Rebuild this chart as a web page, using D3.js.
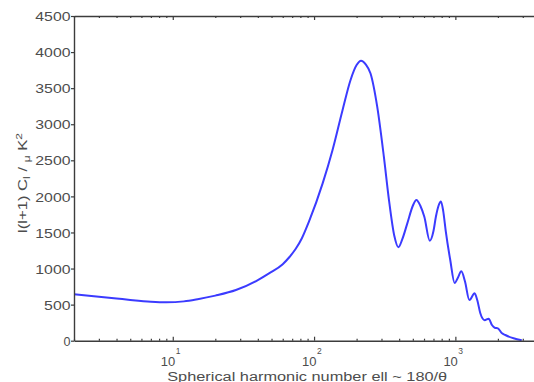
<!DOCTYPE html>
<html><head><meta charset="utf-8">
<script src="https://cdn.jsdelivr.net/npm/d3@7"></script>
<style>body{margin:0;background:#fff}svg{display:block}</style>
</head><body><svg id="c" width="534" height="382"></svg>
<script>
// ---- data ----
const ell   = [2, 3, 4, 5, 7, 9, 12, 15, 20, 28, 40, 48, 60, 67, 74, 82, 92, 115, 135, 159, 181, 200, 215, 232, 251, 280, 312, 339, 370, 395, 420, 457, 500, 530, 565, 603, 659, 700, 728, 760, 790, 820, 855, 920, 988, 1040, 1102, 1170, 1256, 1368, 1430, 1502, 1611, 1720, 1815, 1900, 2000, 2140, 2256, 2582, 2950];
const power = [645, 610, 585, 565, 540, 532, 545, 575, 625, 702, 840, 933, 1060, 1160, 1270, 1420, 1650, 2180, 2640, 3195, 3610, 3820, 3880, 3830, 3704, 3241, 2548, 1949, 1450, 1295, 1400, 1626, 1870, 1950, 1870, 1717, 1385, 1520, 1717, 1870, 1930, 1800, 1520, 1118, 800, 870, 962, 820, 564, 656, 560, 380, 285, 305, 217, 180, 171, 102, 79, 33, 5];
const yTickValues = [0, 500, 1000, 1500, 2000, 2500, 3000, 3500, 4000, 4500];
const xMajorTicks = [10, 100, 1000];
const xMajorExp   = ["1", "2", "3"];
const xMinorTicks = [2,3,4,5,6,7,8,9,20,30,40,50,60,70,80,90,200,300,400,500,600,700,800,900,2000,3000,4000];
const xLabel = "Spherical harmonic number ell ~ 180/\u03B8";

// ---- layout ----
const mLeft = 74, mTop = 16, mBottom = 340.7, decade = 141.3;
const svg = d3.select("#c");
const x = d3.scaleLog().domain([2, 4000]).range([mLeft, mLeft + decade * Math.log10(2000)]);
const y = d3.scaleLinear().domain([0, 4500]).range([mBottom, mTop]);
const axisColor = "#3c3c3c", textColor = "#4d4d4d";
const font = "'Liberation Sans', Arial, Helvetica, sans-serif";

// curve
svg.append("path")
  .datum(ell.map((e, i) => [e, power[i]]))
  .attr("fill", "none").attr("stroke", "#3b3bff").attr("stroke-width", 2)
  .attr("stroke-linejoin", "round")
  .attr("d", d3.line().x(d => x(d[0])).y(d => y(d[1])).curve(d3.curveMonotoneX));

function styleAxis(g) {
  g.select(".domain").attr("stroke", axisColor).attr("stroke-width", 1.4);
  g.selectAll(".tick line").attr("stroke", axisColor).attr("stroke-width", 1.2);
  g.selectAll(".tick text").remove();
}
// bottom axis (ticks inward)
const gb = svg.append("g").attr("transform", `translate(0,${mBottom})`);
gb.call(d3.axisBottom(x).tickValues(xMinorTicks).tickSize(-2).tickSizeOuter(0).tickFormat(""));
styleAxis(gb);
const gb2 = svg.append("g").attr("transform", `translate(0,${mBottom})`);
gb2.call(d3.axisBottom(x).tickValues(xMajorTicks).tickSize(-4).tickSizeOuter(0).tickFormat(""));
styleAxis(gb2); gb2.select(".domain").remove();
// top axis
const gt = svg.append("g").attr("transform", `translate(0,${mTop})`);
gt.call(d3.axisTop(x).tickValues(xMinorTicks).tickSize(-2).tickSizeOuter(0).tickFormat(""));
styleAxis(gt);
const gt2 = svg.append("g").attr("transform", `translate(0,${mTop})`);
gt2.call(d3.axisTop(x).tickValues(xMajorTicks).tickSize(-4).tickSizeOuter(0).tickFormat(""));
styleAxis(gt2); gt2.select(".domain").remove();
// left axis
const gl = svg.append("g").attr("transform", `translate(${mLeft},0)`);
gl.call(d3.axisLeft(y).tickValues(yTickValues).tickSize(3).tickSizeOuter(0).tickFormat(d3.format("d")));
gl.select(".domain").attr("stroke", axisColor).attr("stroke-width", 1.4);
gl.selectAll(".tick line").attr("stroke", axisColor).attr("stroke-width", 1.2);
gl.selectAll(".tick text")
  .attr("x", -3.5).attr("dy", "0.36em")
  .attr("fill", textColor).style("font-family", font).style("font-size", "13px")
  .attr("text-anchor", "end")
  .attr("textLength", d => String(d).length > 1 ? String(d).length * 8.8 : 7)
  .attr("lengthAdjust", "spacingAndGlyphs");

// x tick labels 10^n
xMajorTicks.forEach((v, i) => {
  svg.append("text").attr("x", x(v) + 2.5).attr("y", 366)
    .attr("text-anchor", "end").attr("fill", textColor)
    .style("font-family", font).style("font-size", "13px").text("10");
  svg.append("text").attr("x", x(v) + 3).attr("y", 354)
    .attr("text-anchor", "start").attr("fill", textColor)
    .style("font-family", font).style("font-size", "8.5px").text(xMajorExp[i]);
});

// x label
svg.append("text").attr("x", (x.range()[0] + x.range()[1]) / 2).attr("y", 380.5)
  .attr("text-anchor", "middle").attr("fill", textColor)
  .style("font-family", font).style("font-size", "12px")
  .attr("textLength", 280).attr("lengthAdjust", "spacingAndGlyphs")
  .text(xLabel);

// y label
const yl = svg.append("text")
  .attr("text-anchor", "middle").attr("fill", textColor)
  .style("font-family", font).style("font-size", "12.5px");
yl.append("tspan").text("l(l+1) C");
yl.append("tspan").attr("dy", 3).style("font-size", "9px").text("l");
yl.append("tspan").attr("dy", -3).text(" / ");
yl.append("tspan").attr("dy", 3).style("font-size", "9px").text("\u03BC");
yl.append("tspan").attr("dy", -3).text(" K");
yl.append("tspan").attr("dy", -5).style("font-size", "9px").text("2");
const natural = yl.node().getComputedTextLength();
const k = 100 / natural;
yl.attr("transform", `translate(26.5,183) rotate(-90) scale(${k},1)`);
</script></body></html>
